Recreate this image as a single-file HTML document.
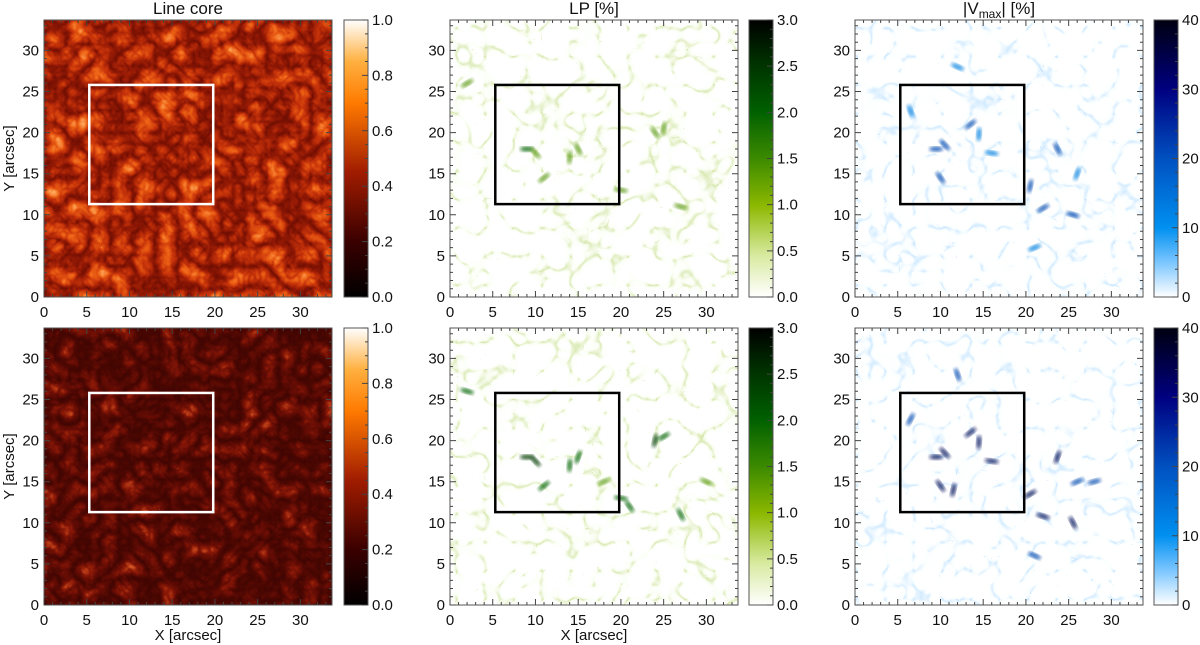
<!DOCTYPE html>
<html><head><meta charset="utf-8">
<style>
html,body{margin:0;padding:0;background:#fff;}
svg{display:block;font-family:"Liberation Sans",Arial,sans-serif;}
</style></head>
<body>
<svg id="fig" width="1200" height="645" viewBox="0 0 1200 645" xmlns="http://www.w3.org/2000/svg">
<defs>
<filter id="lc1" x="0" y="0" width="100%" height="100%" color-interpolation-filters="sRGB">
<feTurbulence type="turbulence" baseFrequency="0.045" numOctaves="3" seed="3"/>
<feColorMatrix type="matrix" values="1 0 0 0 0 1 0 0 0 0 1 0 0 0 0 0 0 0 0 1"/>
<feComponentTransfer>
<feFuncR type="table" tableValues="0.42 0.58 0.78 0.93 1 1"/>
<feFuncG type="table" tableValues="0.05 0.1 0.2 0.38 0.65 1"/>
<feFuncB type="table" tableValues="0.01 0.02 0.04 0.08 0.35 0.8"/>
<feFuncA type="table" tableValues="1 1"/>
</feComponentTransfer>
</filter>
<filter id="lc2" x="0" y="0" width="100%" height="100%" color-interpolation-filters="sRGB">
<feTurbulence type="turbulence" baseFrequency="0.05" numOctaves="3" seed="7"/>
<feColorMatrix type="matrix" values="1 0 0 0 0 1 0 0 0 0 1 0 0 0 0 0 0 0 0 1"/>
<feComponentTransfer>
<feFuncR type="table" tableValues="0.24 0.3 0.4 0.55 0.8 1"/>
<feFuncG type="table" tableValues="0.02 0.03 0.05 0.1 0.3 0.8"/>
<feFuncB type="table" tableValues="0.01 0.01 0.02 0.03 0.12 0.5"/>
<feFuncA type="table" tableValues="1 1"/>
</feComponentTransfer>
</filter>
<filter id="lp" x="0" y="0" width="100%" height="100%" color-interpolation-filters="sRGB">
<feTurbulence type="turbulence" baseFrequency="0.035" numOctaves="2" seed="11"/>
<feColorMatrix type="matrix" values="1 0 0 0 0 1 0 0 0 0 1 0 0 0 0 0 0 0 0 1"/>
<feComponentTransfer>
<feFuncR type="table" tableValues="0.86 0.99 1 1 1 1 1 1 1 1"/>
<feFuncG type="table" tableValues="0.92 1 1 1 1 1 1 1 1 1"/>
<feFuncB type="table" tableValues="0.72 0.97 1 1 1 1 1 1 1 1"/>
<feFuncA type="table" tableValues="1 1"/>
</feComponentTransfer>
</filter>
<filter id="vv" x="0" y="0" width="100%" height="100%" color-interpolation-filters="sRGB">
<feTurbulence type="turbulence" baseFrequency="0.035" numOctaves="2" seed="11"/>
<feColorMatrix type="matrix" values="1 0 0 0 0 1 0 0 0 0 1 0 0 0 0 0 0 0 0 1"/>
<feComponentTransfer>
<feFuncR type="table" tableValues="0.82 0.99 1 1 1 1 1 1 1 1"/>
<feFuncG type="table" tableValues="0.92 1 1 1 1 1 1 1 1 1"/>
<feFuncB type="table" tableValues="1 1 1 1 1 1 1 1 1 1"/>
<feFuncA type="table" tableValues="1 1"/>
</feComponentTransfer>
</filter>
<filter id="blur"><feGaussianBlur stdDeviation="1.8"/></filter>
<linearGradient id="g-lc" x1="0" y1="1" x2="0" y2="0">
<stop offset="0" stop-color="#000"/><stop offset="0.2" stop-color="#3a0000"/><stop offset="0.45" stop-color="#a01c00"/><stop offset="0.7" stop-color="#ff7a00"/><stop offset="0.85" stop-color="#ffb040"/><stop offset="1" stop-color="#fff"/>
</linearGradient>
<linearGradient id="g-lp" x1="0" y1="1" x2="0" y2="0">
<stop offset="0" stop-color="#fff"/><stop offset="0.15" stop-color="#d8eaa0"/><stop offset="0.33" stop-color="#8cb800"/><stop offset="0.5" stop-color="#3c8a00"/><stop offset="0.67" stop-color="#006000"/><stop offset="0.85" stop-color="#003000"/><stop offset="1" stop-color="#000"/>
</linearGradient>
<linearGradient id="g-v" x1="0" y1="1" x2="0" y2="0">
<stop offset="0" stop-color="#fff"/><stop offset="0.12" stop-color="#80c8ff"/><stop offset="0.25" stop-color="#0090f0"/><stop offset="0.5" stop-color="#0050c0"/><stop offset="0.75" stop-color="#000080"/><stop offset="1" stop-color="#000010"/>
</linearGradient>
</defs>
</svg>
<script>
const xTicks=[0,5,10,15,20,25,30];
const yTicks=[0,5,10,15,20,25,30];
const extent=33.7;
const box=[5.3,11.3,19.8,25.8];
const lcTicks=["0.0","0.2","0.4","0.6","0.8","1.0"];
const lpTicks=["0.0","0.5","1.0","1.5","2.0","2.5","3.0"];
const vTicks=["0","10","20","30","40"];
const titles=["Line core","LP [%]","|V|"];
// LP spots: x, y, value(%)
const lpSpots1=[[9,18,1.4],[10,17.5,1.2],[14,17,1.0],[11,14.5,0.9],[20,13,1.1],[24,20,1.2],[25,20.5,1.0],[2,26,0.9],[27,11,0.8],[15,18,0.8]];
const lpSpots2=[[9,18,2.8],[10,17.5,2.5],[14,17,1.9],[11,14.5,1.6],[20,13,2.0],[21,12,1.6],[24,20,2.2],[25,20.5,1.9],[2,26,1.5],[27,11,1.4],[15,18,1.5],[18,15,1.3],[30,15,1.3]];
// V spots: x, y, value(%)
const vSpots1=[[9.5,18,22],[10.5,18.5,15],[14.5,19.8,14],[13.5,21,16],[16,17.5,14],[10,14.5,16],[20.5,13.5,18],[22,10.8,15],[25.5,10,18],[23.7,18,15],[26,15,12],[21,6,10],[12,28,10],[6.5,22.6,10]];
const vSpots2=[[9.5,18,38],[10.5,18.5,30],[14.5,19.8,28],[13.5,21,30],[16,17.5,26],[10,14.5,30],[11.5,14,26],[20.5,13.5,32],[22,10.8,28],[25.5,10,32],[23.7,18,28],[26,15,22],[21,6,18],[12,28,18],[6.5,22.6,18],[28,15,16]];

const NS="http://www.w3.org/2000/svg";
const svg=document.getElementById('fig');
function el(t,a,p){const e=document.createElementNS(NS,t);for(const k in a)e.setAttribute(k,a[k]);(p||svg).appendChild(e);return e;}
const colL=[44,450,855], rowT=[20,328], PW=288, PH=277, cbOff=[300,299,299], CBW=24;
function sx(c,v){return colL[c]+v/extent*PW;}
function sy(r,v){return rowT[r]+PH-v/extent*PH;}
const lpCol=v=>{const t=v/3;return t>0.7?'#003a00':t>0.45?'#006400':'#5a9a10';};
const vCol=v=>{const t=v/40;return t>0.6?'#00105a':t>0.35?'#0048b0':'#0080e0';};

for(let r=0;r<2;r++){for(let c=0;c<3;c++){
 const g=el('g',{});
 
 
 const x0=colL[c],y0=rowT[r];
 const fid=c===0?(r===0?'lc1':'lc2'):(c===1?'lp':'vv');
 const img=el('rect',{x:x0,y:y0,width:PW,height:PH,fill:'#fff',filter:'url(#'+fid+')'},g);
 
 
 const spots=c===1?(r===0?lpSpots1:lpSpots2):c===2?(r===0?vSpots1:vSpots2):null;
 if(spots){spots.forEach((s,i)=>{
   const e=el('ellipse',{cx:sx(c,s[0]),cy:sy(r,s[1]),rx:7,ry:2.5,transform:`rotate(${(i*47)%180} ${sx(c,s[0])} ${sy(r,s[1])})`,fill:c===1?lpCol(s[2]):vCol(s[2]),opacity:0.8,filter:'url(#blur)'},g);
   
   
 });}
 const bx=el('rect',{x:sx(c,box[0]),y:sy(r,box[3]),width:sx(c,box[2])-sx(c,box[0]),height:sy(r,box[1])-sy(r,box[3]),fill:'none',stroke:c===0?'#fff':'#000','stroke-width':2.5},g);
 
 
 const fr=el('rect',{x:x0,y:y0,width:PW,height:PH,fill:'none',stroke:'#555','stroke-width':1},g);
 
 
 let d='';
 for(let v=0;v<=33;v++){const maj=v%5===0,L=maj?6:3;const X=sx(c,v),Y=sy(r,v);
  d+=`M${X},${y0+PH}v${-L}M${X},${y0}v${L}M${x0},${Y}h${L}M${x0+PW},${Y}h${-L}`;}
 const tk=el('path',{d:d,stroke:'#444','stroke-width':1,fill:'none'},g);
 
 
 xTicks.forEach(v=>{const t=el('text',{x:sx(c,v),y:y0+PH+20,'font-size':15,'text-anchor':'middle',fill:'#111'},g);t.textContent=v;
  });
 yTicks.forEach(v=>{const t=el('text',{x:x0-5,y:sy(r,v)+5,'font-size':15,'text-anchor':'end',fill:'#111'},g);t.textContent=v;
  });
 const cx=x0+cbOff[c];
 const cb=el('rect',{x:cx,y:y0,width:CBW,height:PH,fill:'url(#'+(c===0?'g-lc':c===1?'g-lp':'g-v')+')',stroke:'#555','stroke-width':1},g);
 
 
 const lab=c===0?lcTicks:c===1?lpTicks:vTicks;
 let cd='';const n=lab.length-1,minor=c===2?5:(c===0?4:5);
 for(let i=0;i<=n*minor;i++){const Y=y0+PH-i/(n*minor)*PH;cd+=`M${cx+CBW},${Y}h${i%minor===0?-6:-3}`;}
 const ct=el('path',{d:cd,stroke:'#444','stroke-width':1},g);
 
 
 lab.forEach((s,i)=>{const t=el('text',{x:cx+CBW+4,y:y0+PH-i/n*PH+5,'font-size':15,fill:'#111'},g);t.textContent=s;
  });
 if(r===0){const t=el('text',{x:x0+PW/2,y:14,'font-size':17,'text-anchor':'middle',fill:'#111'},g);
  if(c<2)t.textContent=titles[c];else{t.innerHTML='|V<tspan font-size="12" dy="4">max</tspan><tspan dy="-4">| [%]</tspan>';}
  }
 if(c===0){const t=el('text',{transform:`translate(14,${y0+PH/2}) rotate(-90)`,'font-size':15,'text-anchor':'middle',fill:'#111'},g);t.textContent='Y [arcsec]';
  }
 if(r===1&&c<2){const t=el('text',{x:x0+PW/2,y:640,'font-size':15,'text-anchor':'middle',fill:'#111'},g);t.textContent='X [arcsec]';
  }
}}
</script>
</body></html>
